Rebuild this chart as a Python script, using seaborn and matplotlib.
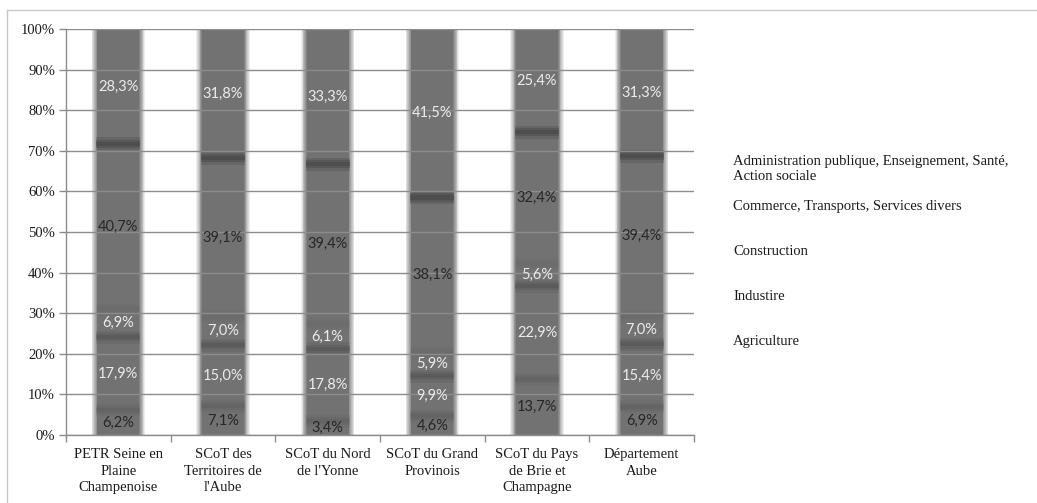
import numpy as np
import pandas as pd
import seaborn as sns
import matplotlib.pyplot as plt
from matplotlib.lines import Line2D
from matplotlib.ticker import FuncFormatter, FixedLocator

# ----- data (percent of jobs by sector) -----
territoires = ["PETR Seine en\nPlaine\nChampenoise", "SCoT des\nTerritoires de\nl'Aube",
               "SCoT du Nord\nde l'Yonne", "SCoT du Grand\nProvinois",
               "SCoT du Pays\nde Brie et\nChampagne", "Département\nAube"]
agriculture = [6.2, 7.1, 3.4, 4.6, 13.7, 6.9]
industrie = [17.9, 15.0, 17.8, 9.9, 22.9, 15.4]
construction = [6.9, 7.0, 6.1, 5.9, 5.6, 7.0]
commerce = [40.7, 39.1, 39.4, 38.1, 32.4, 39.4]
administration = [28.3, 31.8, 33.3, 41.5, 25.4, 31.3]

series_names = ["Agriculture", "Industire", "Construction",
                "Commerce, Transports, Services divers",
                "Administration publique, Enseignement, Santé,\nAction sociale"]
series_values = [agriculture, industrie, construction, commerce, administration]
label_colors = ["#262626", "#ececec", "#ececec", "#262626", "#ececec"]
band_alpha = [0.2, 0.35, 0.06, 0.65]   # darker seam at top of each segment

df = pd.DataFrame({"territoire": territoires})
for name, vals in zip(series_names, series_values):
    df[name] = vals
cum = df[series_names].cumsum(axis=1)
df["total"] = cum[series_names[-1]]

sns.set_style("white")
plt.rcParams["font.family"] = ["Liberation Serif", "DejaVu Serif"]

fig = plt.figure(figsize=(10.37, 5.03), dpi=100)
ax = fig.add_axes([66 / 1037, 1 - 435 / 503, (694 - 66) / 1037, (435 - 29) / 503])

# soft edges: wider, lighter bars under the solid one
gray = np.array([0x72, 0x72, 0x72]) / 255
widths = np.linspace(0.51, 0.40, 8)
for k, w in enumerate(widths):
    t = (k + 1) / len(widths)
    col = tuple(1 - t * (1 - gray))
    sns.barplot(data=df, x="territoire", y="total", color=col, width=w,
                saturation=1, linewidth=0, ax=ax, errorbar=None)

xpos = np.arange(len(territoires))
# dark blurred seams between segments
for i, name in enumerate(series_names[:-1]):
    top = cum[name].values
    for h, a in [(3.2, 0.35), (2.0, 0.45), (1.0, 0.5)]:
        ax.bar(xpos, h, bottom=top - h / 2, width=0.42, color="#3a3a3a",
               alpha=band_alpha[i] * a, linewidth=0, zorder=1.5)

# value labels in the middle of each segment
for i, name in enumerate(series_names):
    mids = cum[name].values - df[name].values / 2
    for x, y, v in zip(xpos, mids, df[name].values):
        ax.text(x, y, f"{v:.1f}%".replace(".", ","), ha="center", va="center",
                fontsize=10.5, color=label_colors[i], family=["Lato", "DejaVu Sans"],
                zorder=3)

ax.set_ylim(0, 100)
ax.set_xlim(-0.5, len(territoires) - 0.5)
ax.yaxis.set_major_locator(FixedLocator(np.arange(0, 101, 10)))
ax.yaxis.set_major_formatter(FuncFormatter(lambda v, p: f"{int(v)}%"))
ax.set_axisbelow(False)
ax.yaxis.grid(True, color="#8c8c8c", linewidth=1)
ax.xaxis.grid(False)
ax.set_xlabel("")
ax.set_ylabel("")

for s in ["top", "right"]:
    ax.spines[s].set_visible(False)
for s in ["left", "bottom"]:
    ax.spines[s].set_color("#8c8c8c")
    ax.spines[s].set_linewidth(1)

ax.tick_params(axis="y", which="major", left=True, length=5, width=1,
               color="#8c8c8c", labelsize=10.5, pad=3, labelcolor="#1a1a1a")
ax.tick_params(axis="x", which="major", bottom=False, labelsize=10.5, pad=6,
               labelcolor="#1a1a1a")
ax.set_xticks(np.arange(-0.5, len(territoires), 1.0), minor=True)
ax.tick_params(axis="x", which="minor", bottom=True, length=5, width=1, color="#8c8c8c")
for lab in ax.get_xticklabels():
    lab.set_linespacing(1.35)

# legend as plain text entries (no swatches in the original)
for i, name in enumerate(series_names[::-1]):
    fig.text(733 / 1037, 1 - (155 + 45 * i) / 503, name, ha="left", va="top",
             fontsize=10.5, color="#1a1a1a", linespacing=1.25)

# outer frame (top and left edges visible)
fig.add_artist(Line2D([7 / 1037, 7 / 1037], [0, 1 - 10 / 503], color="#c8c8c8", lw=1))
fig.add_artist(Line2D([7 / 1037, 1], [1 - 10 / 503, 1 - 10 / 503], color="#c8c8c8", lw=1))

fig.savefig("out.png", dpi=100)
